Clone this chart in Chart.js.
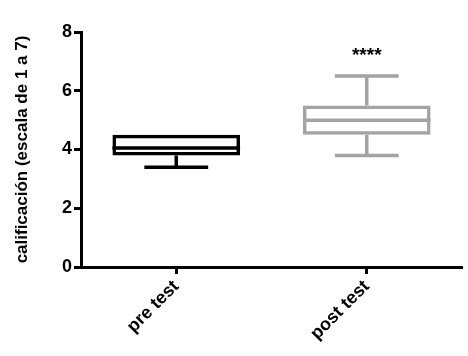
<!DOCTYPE html>
<html>
<head>
<meta charset="utf-8">
<script src="https://cdn.jsdelivr.net/npm/chart.js"></script>
<style>
  body{margin:0;background:#fff;}
  #wrap{width:468px;height:356px;}
</style>
</head>
<body>
<div id="wrap"><canvas id="boxChart"></canvas></div>
<script>
// Data
const categories = ['pre test', 'post test'];
const mins    = [3.4, 3.8];
const q1s     = [3.8, 4.5];
const medians = [4.05, 5.0];
const q3s     = [4.5, 5.5];
const maxs    = [4.5, 6.5];
const marks   = ['', '****'];
const colors  = ['#000000', '#a3a3a3'];
const yTicks  = [0, 2, 4, 6, 8];

const FONT = '"Liberation Sans", Arial, sans-serif';

// Whiskers, medians and significance stars
const boxExtras = {
  id: 'boxExtras',
  afterDatasetsDraw(chart){
    const ctx = chart.ctx;
    const y = chart.scales.y;
    const meta = chart.getDatasetMeta(0);
    meta.data.forEach((bar, i) => {
      const half = bar.width / 2;
      const cap = bar.width / 4;
      ctx.save();
      ctx.strokeStyle = colors[i];
      ctx.lineWidth = 3.5;
      ctx.beginPath();
      // median
      ctx.moveTo(bar.x - half, y.getPixelForValue(medians[i]));
      ctx.lineTo(bar.x + half, y.getPixelForValue(medians[i]));
      // lower whisker
      if(mins[i] < q1s[i]){
        ctx.moveTo(bar.x, y.getPixelForValue(q1s[i]));
        ctx.lineTo(bar.x, y.getPixelForValue(mins[i]));
        ctx.moveTo(bar.x - cap, y.getPixelForValue(mins[i]));
        ctx.lineTo(bar.x + cap, y.getPixelForValue(mins[i]));
      }
      // upper whisker
      if(maxs[i] > q3s[i]){
        ctx.moveTo(bar.x, y.getPixelForValue(q3s[i]));
        ctx.lineTo(bar.x, y.getPixelForValue(maxs[i]));
        ctx.moveTo(bar.x - cap, y.getPixelForValue(maxs[i]));
        ctx.lineTo(bar.x + cap, y.getPixelForValue(maxs[i]));
      }
      ctx.stroke();
      if(marks[i]){
        ctx.fillStyle = '#000';
        ctx.font = 'bold 19px ' + FONT;
        ctx.textAlign = 'center';
        ctx.textBaseline = 'middle';
        ctx.fillText(marks[i], bar.x, y.getPixelForValue(maxs[i]) - 20);
      }
      ctx.restore();
    });
  }
};

new Chart(document.getElementById('boxChart'), {
  type: 'bar',
  data: {
    labels: categories,
    datasets: [{
      data: q1s.map((q, i) => [q, q3s[i]]),
      backgroundColor: 'rgba(0,0,0,0)',
      borderColor: colors,
      borderWidth: 3.5,
      borderSkipped: false,
      categoryPercentage: 1,
      barPercentage: 0.67
    }]
  },
  options: {
    responsive: true,
    maintainAspectRatio: false,
    animation: false,
    layout: { padding: { top: 32, right: 6, left: 12, bottom: 0 } },
    plugins: { legend: { display: false }, tooltip: { enabled: false } },
    scales: {
      x: {
        offset: true,
        grid: {
          offset: false,
          drawOnChartArea: false,
          drawTicks: true,
          tickLength: 7,
          tickWidth: 3,
          tickColor: '#000'
        },
        border: { color: '#000', width: 3 },
        ticks: {
          color: '#000',
          minRotation: 45,
          maxRotation: 45,
          padding: 2,
          font: { family: FONT, size: 18, weight: 'bold' }
        },
        afterFit(scale){ scale.height = 89; }
      },
      y: {
        min: 0,
        max: 8,
        afterBuildTicks(scale){ scale.ticks = yTicks.map(v => ({ value: v })); },
        grid: {
          drawOnChartArea: false,
          drawTicks: true,
          tickLength: 7,
          tickWidth: 3,
          tickColor: '#000'
        },
        border: { color: '#000', width: 3 },
        ticks: {
          color: '#000',
          padding: 2,
          font: { family: FONT, size: 18, weight: 'bold' }
        },
        title: {
          display: true,
          text: 'calificación (escala de 1 a 7)',
          color: '#000',
          padding: { top: 0, bottom: 8 },
          font: { family: FONT, size: 17, weight: 'bold' }
        },
        afterFit(scale){ scale.width = 69; }
      }
    }
  },
  plugins: [boxExtras]
});
</script>
</body>
</html>
